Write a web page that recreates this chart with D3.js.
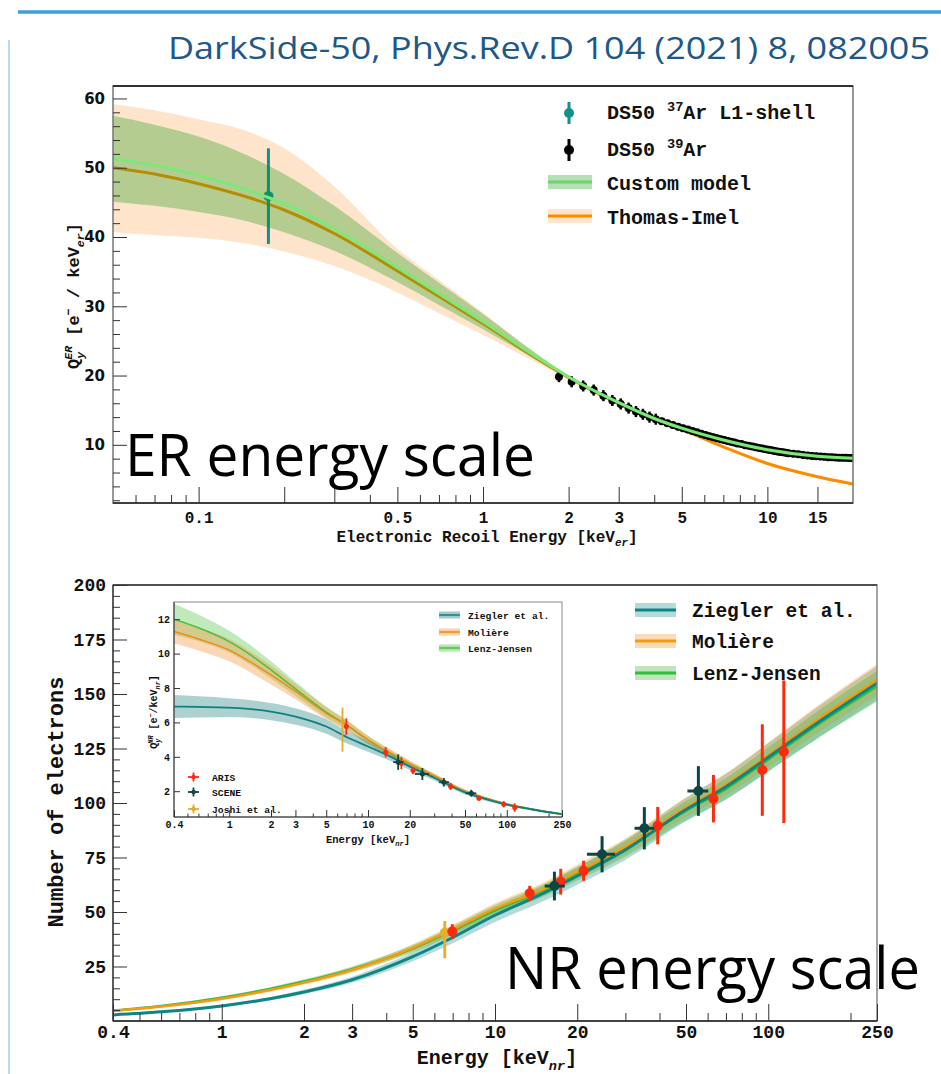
<!DOCTYPE html>
<html><head><meta charset="utf-8">
<script src="https://cdn.jsdelivr.net/npm/d3@7"></script>
<style>body{margin:0;background:#fff}</style>
</head><body><svg id="c" width="941" height="1074"></svg>
<script>
// ---------------- DATA ----------------
const titleText = "DarkSide-50, Phys.Rev.D 104 (2021) 8, 082005";

// ER panel
const erTickLabeled = [0.1,0.5,1,2,3,5,10,15];
const erTickMajorUnl = [0.2,0.3];
const erTickMinor = [0.06,0.07,0.08,0.09,0.4,0.6,0.7,0.8,0.9,4,6,7,8,9];
const erYMajor = [10,20,30,40,50,60];
const erYMinor = [2,4,6,8,12,14,16,18,22,24,26,28,32,34,36,38,42,44,46,48,52,54,56,58];

const erE        = [0.05,0.07,0.1,0.15,0.2,0.3,0.5,0.7,1,1.5,2,3,4,5,7,10,15,20];
const customMid  = [51.3,50.35,48.9,46.7,44.8,41.2,35.6,31.8,27.8,23.0,19.8,16.1,13.8,12.4,10.7,9.3,8.35,8.05];
const customLo   = [45.1,44.5,43.6,42.2,40.7,38.0,33.5,30.2,26.7,22.5,19.55,15.8,13.5,12.1,10.4,9.0,8.05,7.75];
const customHi   = [57.5,56.2,54.5,51.7,49.1,44.5,37.7,33.4,28.9,23.5,20.05,16.4,14.1,12.7,11.0,9.6,8.65,8.35];
const tiMid      = [50.0,49.1,47.7,45.7,43.9,40.5,35.1,31.4,27.5,22.8,19.7,15.9,13.6,12.2,9.7,7.3,5.4,4.35];
const tiLo       = [40.7,40.3,39.9,39.0,37.9,35.8,32.0,29.0,25.9,22.1,19.45,15.7,13.4,12.0,9.5,7.1,5.2,4.15];
const tiHi       = [59.2,58.3,57.0,55.2,52.8,47.3,38.3,33.8,29.1,23.5,19.95,16.1,13.8,12.4,9.9,7.5,5.6,4.55];

const ar37E = [0.176], ar37Q = [45.9], ar37Lo = [39.0], ar37Hi = [52.8];

const ar39E = [1.85,2.05,2.25,2.45,2.65,2.85,3.05,3.25,3.45,3.65,3.85,4.05,4.25,4.45,4.65,4.85,5.05,5.25,5.45,5.65,5.85,6.05,6.25,6.45,6.65,6.85,7.05,7.25,7.45,7.65,7.85,8.1,8.35,8.6,8.85,9.1,9.35,9.6,9.85,10.1,10.35,10.6,10.85,11.1,11.35,11.6,11.85,12.35,12.85,13.35,13.85,14.35,14.85,15.35,15.85,16.35,16.85,17.35,17.85,18.35,18.85,19.35,19.85];
const ar39Q = [19.84,19.1,18.5,17.9,17.1,16.4,15.9,15.3,14.8,14.4,14.0,13.7,13.4,13.1,12.85,12.6,12.4,12.2,12.0,11.8,11.6,11.4,11.25,11.1,10.95,10.8,10.7,10.55,10.45,10.35,10.2,10.1,9.95,9.85,9.75,9.65,9.55,9.45,9.35,9.28,9.2,9.12,9.05,8.98,8.92,8.86,8.8,8.72,8.62,8.52,8.45,8.4,8.35,8.3,8.26,8.22,8.2,8.17,8.15,8.13,8.12,8.1,8.1];
const ar39Err = [0.8,0.8,0.8,0.8,0.8,0.8,0.8,0.8,0.8,0.8,0.8,0.8,0.5,0.5,0.5,0.5,0.5,0.5,0.5,0.5,0.5,0.5,0.5,0.5,0.5,0.5,0.5,0.5,0.5,0.5,0.5,0.5,0.5,0.5,0.5,0.5,0.5,0.5,0.5,0.5,0.5,0.5,0.5,0.5,0.5,0.5,0.5,0.5,0.5,0.5,0.5,0.5,0.5,0.5,0.5,0.5,0.5,0.5,0.5,0.5,0.5,0.5,0.5];

// NR panel
const nrTickLabeled = [0.4,1,2,3,5,10,20,50,100,250];
const nrTickMinor = [0.5,0.6,0.7,0.8,0.9,4,6,7,8,9,30,40,60,70,80,90,200];
const nrYMajor = [25,50,75,100,125,150,175,200];
const nrYMinor = [5,10,15,20,30,35,40,45,55,60,65,70,80,85,90,95,105,110,115,120,130,135,140,145,155,160,165,170,180,185,190,195];

const nrE          = [0.4,0.6,1,1.5,2,3,5,7,10,15,20,30,50,70,100,150,250];
const zieglerN     = [2.8,4.2,6.9,10.2,13.3,18.9,29.5,38.3,48.5,58.5,66.5,78.5,97,107.5,121,136.5,155];
const zieglerNErr  = [0.27,0.38,0.55,0.75,1.0,1.4,2.1,2.6,3.1,3.6,4.0,4.6,5.4,5.9,6.5,7.1,7.8];
const moliereN     = [4.6,6.6,10.2,14.2,17.6,23.4,33.5,42,51.5,60.5,68.5,80,98,108.5,122,138,156.5];
const moliereNErr  = [0.28,0.4,0.65,0.85,1.0,1.25,1.7,2.1,2.5,2.9,3.2,3.7,4.5,5.0,5.6,6.3,7.2];
const lenzN        = [4.8,6.9,10.7,14.7,18.1,23.8,33.2,41.5,50.8,59.8,67.6,79,96.5,106.5,120,135.5,153.5];
const lenzNErr     = [0.36,0.45,0.63,0.8,1.0,1.25,1.65,2.0,2.4,2.8,3.1,3.6,4.4,4.9,5.5,6.2,7.0];

const zieglerQ     = [6.92,6.9,6.86,6.76,6.63,6.34,5.76,5.15,4.6,3.95,3.43,2.78,1.93,1.55,1.22,0.95,0.66];
const zieglerQErr  = [0.67,0.62,0.55,0.52,0.5,0.48,0.42,0.36,0.3,0.24,0.2,0.16,0.12,0.1,0.08,0.06,0.05];
const moliereQ     = [11.28,10.85,10.2,9.4,8.76,7.8,6.53,5.85,4.98,4.15,3.6,2.9,2.0,1.6,1.25,0.97,0.68];
const moliereQErr  = [0.68,0.67,0.65,0.6,0.55,0.45,0.35,0.3,0.25,0.21,0.18,0.14,0.1,0.08,0.07,0.06,0.05];
const lenzQ        = [12.0,11.5,10.7,9.8,9.05,7.95,6.6,5.85,4.98,4.12,3.57,2.87,1.98,1.58,1.23,0.95,0.66];
const lenzQErr     = [0.9,0.78,0.63,0.56,0.5,0.42,0.33,0.28,0.24,0.2,0.17,0.13,0.1,0.08,0.07,0.06,0.05];

const arisE   = [6.98,13.4,17.4,21.1,39.4,63.0,95.1,114];
const arisN   = [41.0,58.6,63.9,68.9,89.6,102.0,115.1,123.5];
const arisNErr= [3.4,3.4,5.9,4.6,8.6,10.9,21.0,32.7];
const arisQ   = [5.76,4.27,3.63,3.2,2.27,1.59,1.24,1.05];
const arisQErr= [0.48,0.3,0.35,0.2,0.2,0.15,0.18,0.25];

const sceneE   = [16.5,24.65,35.2,55.5];
const sceneELo = [15.2,21.7,32.4,50.6];
const sceneEHi = [18.0,27.5,38.3,60.3];
const sceneN   = [61.9,76.5,88.4,105.5];
const sceneNErr= [6.6,8.3,9.7,11.4];
const sceneQ   = [3.69,3.0,2.52,1.88];
const sceneQErr= [0.45,0.35,0.25,0.2];

const joshiE = [6.55];
const joshiN = [40.5], joshiNLo = [28.8], joshiNHi = [45.9];
const joshiQ = [6.05], joshiQLo = [4.3], joshiQHi = [6.86];

const insetYMajor = [2,4,6,8,10,12];

// ---------------- DRAW ----------------
const svg = d3.select("#c");
const MONO = "'Liberation Mono','DejaVu Sans Mono',monospace";
const SANS = "'DejaVu Sans',sans-serif";
const BIG = "'Open Sans','Noto Sans',sans-serif";

svg.append("rect").attr("width",941).attr("height",1074).attr("fill","#fff");
svg.append("line").attr("x1",18).attr("x2",941).attr("y1",12).attr("y2",12)
  .attr("stroke","#3d9ee3").attr("stroke-width",3.5);
svg.append("line").attr("x1",9).attr("x2",9).attr("y1",40).attr("y2",1074)
  .attr("stroke","#b8dbf3").attr("stroke-width",2);

svg.append("text").attr("x",168).attr("y",59).text(titleText)
  .attr("font-family",BIG).attr("font-size",31).attr("fill","#1c5889")
  .attr("textLength",762).attr("lengthAdjust","spacingAndGlyphs");

function rich(t, parts, fs){
  let shift = 0;
  parts.forEach(p=>{
    const [s,k,dx] = p;
    const target = (k && k.startsWith("sup")) ? -0.42*fs : (k && k.startsWith("sub")) ? 0.28*fs : 0;
    const ts = t.append("tspan").text(s).attr("dy", target-shift);
    if (dx) ts.attr("dx", dx);
    if (k) ts.attr("font-size", fs*0.68);
    if (k && k.endsWith("it")) ts.attr("font-style","italic");
    shift = target;
  });
}
function styleAxis(g, font, fs){
  g.select(".domain").remove();
  g.attr("font-family", font).attr("font-size", fs).attr("font-weight","bold");
  g.selectAll(".tick line").attr("stroke","#333").attr("stroke-width",1);
  g.selectAll(".tick text").attr("fill","#111");
}

// ======== ER PANEL ========
const erL=113, erR=853, erT=86, erB=503;
const xE = d3.scaleLog().domain([0.05,20]).range([erL,erR]);
const yE = d3.scaleLinear().domain([1.6,61.8]).range([erB,erT]);

svg.append("clipPath").attr("id","clipER").append("rect")
  .attr("x",erL).attr("y",erT).attr("width",erR-erL).attr("height",erB-erT);
const gE = svg.append("g").attr("clip-path","url(#clipER)");

const erRows = erE.map((e,i)=>({e, cm:customMid[i], cl:customLo[i], ch:customHi[i], tm:tiMid[i], tl:tiLo[i], th:tiHi[i]}));
const areaE = (lo,hi)=>d3.area().x(d=>xE(d.e)).y0(d=>yE(d[lo])).y1(d=>yE(d[hi])).curve(d3.curveMonotoneX);
const lineE = k=>d3.line().x(d=>xE(d.e)).y(d=>yE(d[k])).curve(d3.curveMonotoneX);

gE.append("path").datum(erRows).attr("d",areaE("tl","th")).attr("fill","#fee4cb");
gE.append("path").datum(erRows).attr("d",lineE("tm")).attr("fill","none").attr("stroke","#ff8a00").attr("stroke-width",3);

// Ar39 points
const ar39 = ar39E.map((e,i)=>({e,q:ar39Q[i],er:ar39Err[i]}));
gE.selectAll(".eb39").data(ar39).join("line")
  .attr("x1",d=>xE(d.e)).attr("x2",d=>xE(d.e))
  .attr("y1",d=>yE(d.q-d.er)).attr("y2",d=>yE(d.q+d.er))
  .attr("stroke","#000").attr("stroke-width",2.5);
gE.selectAll(".pt39").data(ar39).join("circle")
  .attr("cx",d=>xE(d.e)).attr("cy",d=>yE(d.q)).attr("r",4).attr("fill","#000");

// Ar37 point
const ar37 = ar37E.map((e,i)=>({e,q:ar37Q[i],lo:ar37Lo[i],hi:ar37Hi[i]}));
gE.selectAll(".eb37").data(ar37).join("line")
  .attr("x1",d=>xE(d.e)).attr("x2",d=>xE(d.e))
  .attr("y1",d=>yE(d.lo)).attr("y2",d=>yE(d.hi))
  .attr("stroke","#138f8c").attr("stroke-width",3);
gE.selectAll(".pt37").data(ar37).join("circle")
  .attr("cx",d=>xE(d.e)).attr("cy",d=>yE(d.q)).attr("r",5).attr("fill","#138f8c");

gE.append("path").datum(erRows).attr("d",areaE("cl","ch")).attr("fill","rgba(10,150,10,0.3)");
gE.append("path").datum(erRows).attr("d",lineE("cm")).attr("fill","none").attr("stroke","#7de87a").attr("stroke-width",3);

// frame
svg.append("rect").attr("x",erL).attr("y",erT).attr("width",erR-erL).attr("height",erB-erT)
  .attr("fill","none").attr("stroke","#777").attr("stroke-width",1.5);
svg.append("line").attr("x1",erL).attr("x2",erR).attr("y1",erT).attr("y2",erT).attr("stroke","#111").attr("stroke-width",1.5);
svg.append("line").attr("x1",erL).attr("x2",erR).attr("y1",erB).attr("y2",erB).attr("stroke","#222").attr("stroke-width",1.5);

// axes
svg.append("g").attr("transform",`translate(0,${erB})`)
  .call(d3.axisBottom(xE).tickValues(erTickLabeled).tickSize(-16).tickPadding(9).tickFormat((d,i)=>String(erTickLabeled[i])))
  .call(g=>styleAxis(g,MONO,16));
svg.append("g").attr("transform",`translate(0,${erB})`)
  .call(d3.axisBottom(xE).tickValues(erTickMajorUnl).tickSize(-16).tickFormat(""))
  .call(g=>styleAxis(g,MONO,16));
svg.append("g").attr("transform",`translate(0,${erB})`)
  .call(d3.axisBottom(xE).tickValues(erTickMinor).tickSize(-8).tickFormat(""))
  .call(g=>styleAxis(g,MONO,16));
svg.append("g").attr("transform",`translate(${erL},0)`)
  .call(d3.axisLeft(yE).tickValues(erYMajor).tickSize(-14).tickPadding(8).tickFormat(d3.format("d")))
  .call(g=>styleAxis(g,SANS,15));
svg.append("g").attr("transform",`translate(${erL},0)`)
  .call(d3.axisLeft(yE).tickValues(erYMinor).tickSize(-7).tickFormat(""))
  .call(g=>styleAxis(g,SANS,15));

// axis titles
const erXT = svg.append("text").attr("x",(erL+erR)/2+4).attr("y",542).attr("text-anchor","middle")
  .attr("font-family",MONO).attr("font-weight","bold").attr("font-size",16).attr("fill","#111");
rich(erXT, [["Electronic Recoil Energy [keV"],["er","subit"],["]"]], 16);
const erYT = svg.append("text").attr("transform","translate(79,296) rotate(-90)").attr("text-anchor","middle")
  .attr("font-family",MONO).attr("font-weight","bold").attr("font-size",17).attr("fill","#111");
rich(erYT, [["Q"],["y","subit"],["ER","supit",-8],[" [e"],["\u2212","sup"],[" / keV"],["er","subit"],["]"]], 17);

// legend ER
const legE = svg.append("g").attr("font-family",MONO).attr("font-weight","bold").attr("font-size",20).attr("fill","#111");
legE.append("line").attr("x1",569).attr("x2",569).attr("y1",102).attr("y2",124).attr("stroke","#138f8c").attr("stroke-width",3);
legE.append("circle").attr("cx",569).attr("cy",113).attr("r",5).attr("fill","#138f8c");
rich(legE.append("text").attr("x",607).attr("y",119), [["DS50 "],["37","sup"],["Ar L1-shell"]], 20);
legE.append("line").attr("x1",569).attr("x2",569).attr("y1",139).attr("y2",161).attr("stroke","#000").attr("stroke-width",3);
legE.append("circle").attr("cx",569).attr("cy",150).attr("r",5).attr("fill","#000");
rich(legE.append("text").attr("x",607).attr("y",156), [["DS50 "],["39","sup"],["Ar"]], 20);
legE.append("rect").attr("x",548).attr("y",175).attr("width",44).attr("height",14).attr("fill","rgba(10,150,10,0.3)");
legE.append("line").attr("x1",548).attr("x2",592).attr("y1",182).attr("y2",182).attr("stroke","#6fd46c").attr("stroke-width",3);
legE.append("text").attr("x",607).attr("y",190).text("Custom model");
legE.append("rect").attr("x",548).attr("y",209).attr("width",44).attr("height",14).attr("fill","#fee4cb");
legE.append("line").attr("x1",548).attr("x2",592).attr("y1",216).attr("y2",216).attr("stroke","#ff8a00").attr("stroke-width",3);
legE.append("text").attr("x",607).attr("y",224).text("Thomas-Imel");

svg.append("text").attr("x",125).attr("y",476).text("ER energy scale")
  .attr("font-family",BIG).attr("font-size",58).attr("fill","#000")
  .attr("textLength",410).attr("lengthAdjust","spacingAndGlyphs");

// ======== NR PANEL ========
const nrL=113, nrR=877, nrT=585, nrB=1021;
const xN = d3.scaleLog().domain([0.4,250]).range([nrL,nrR]);
const yN = d3.scaleLinear().domain([0,200]).range([nrB,nrT]);
svg.append("clipPath").attr("id","clipNR").append("rect")
  .attr("x",nrL).attr("y",nrT).attr("width",nrR-nrL).attr("height",nrB-nrT);
const gN = svg.append("g").attr("clip-path","url(#clipNR)");

const nrRows = nrE.map((e,i)=>({e,
  z:zieglerN[i], zl:zieglerN[i]-zieglerNErr[i], zh:zieglerN[i]+zieglerNErr[i],
  m:moliereN[i], ml:moliereN[i]-moliereNErr[i], mh:moliereN[i]+moliereNErr[i],
  l:lenzN[i], ll:lenzN[i]-lenzNErr[i], lh:lenzN[i]+lenzNErr[i]}));
const areaN = (lo,hi)=>d3.area().x(d=>xN(d.e)).y0(d=>yN(d[lo])).y1(d=>yN(d[hi])).curve(d3.curveMonotoneX);
const lineN = k=>d3.line().x(d=>xN(d.e)).y(d=>yN(d[k])).curve(d3.curveMonotoneX);

const cZ="#0d8585", cM="#f59a12", cL="#2fbf3a";
const bZ="rgba(40,150,150,0.35)", bM="rgba(245,160,60,0.38)", bL="rgba(70,180,60,0.35)";
gN.append("path").datum(nrRows).attr("d",areaN("zl","zh")).attr("fill",bZ);
gN.append("path").datum(nrRows).attr("d",areaN("ml","mh")).attr("fill",bM);
gN.append("path").datum(nrRows).attr("d",areaN("ll","lh")).attr("fill",bL);
gN.append("path").datum(nrRows).attr("d",lineN("l")).attr("fill","none").attr("stroke",cL).attr("stroke-width",2.5);
gN.append("path").datum(nrRows).attr("d",lineN("m")).attr("fill","none").attr("stroke",cM).attr("stroke-width",2.5);
gN.append("path").datum(nrRows).attr("d",lineN("z")).attr("fill","none").attr("stroke",cZ).attr("stroke-width",3);

// points main
const joshi = joshiE.map((e,i)=>({e,v:joshiN[i],lo:joshiNLo[i],hi:joshiNHi[i]}));
gN.selectAll(".jeb").data(joshi).join("line").attr("x1",d=>xN(d.e)).attr("x2",d=>xN(d.e))
  .attr("y1",d=>yN(d.lo)).attr("y2",d=>yN(d.hi)).attr("stroke","#e2b032").attr("stroke-width",3);
gN.selectAll(".jpt").data(joshi).join("circle").attr("cx",d=>xN(d.e)).attr("cy",d=>yN(d.v)).attr("r",5).attr("fill","#e2b032");

const aris = arisE.map((e,i)=>({e,v:arisN[i],er:arisNErr[i]}));
gN.selectAll(".aeb").data(aris).join("line").attr("x1",d=>xN(d.e)).attr("x2",d=>xN(d.e))
  .attr("y1",d=>yN(d.v-d.er)).attr("y2",d=>yN(d.v+d.er)).attr("stroke","#ff2a0c").attr("stroke-width",3);
gN.selectAll(".apt").data(aris).join("circle").attr("cx",d=>xN(d.e)).attr("cy",d=>yN(d.v)).attr("r",5).attr("fill","#ff2a0c");

const scene = sceneE.map((e,i)=>({e,lo:sceneELo[i],hi:sceneEHi[i],v:sceneN[i],er:sceneNErr[i]}));
gN.selectAll(".seb").data(scene).join("line").attr("x1",d=>xN(d.e)).attr("x2",d=>xN(d.e))
  .attr("y1",d=>yN(d.v-d.er)).attr("y2",d=>yN(d.v+d.er)).attr("stroke","#0b4545").attr("stroke-width",3);
gN.selectAll(".sebh").data(scene).join("line").attr("x1",d=>xN(d.lo)).attr("x2",d=>xN(d.hi))
  .attr("y1",d=>yN(d.v)).attr("y2",d=>yN(d.v)).attr("stroke","#0b4545").attr("stroke-width",3);
gN.selectAll(".spt").data(scene).join("circle").attr("cx",d=>xN(d.e)).attr("cy",d=>yN(d.v)).attr("r",5).attr("fill","#0b4545");

// frame
svg.append("rect").attr("x",nrL).attr("y",nrT).attr("width",nrR-nrL).attr("height",nrB-nrT)
  .attr("fill","none").attr("stroke","#888").attr("stroke-width",1.5);
svg.append("line").attr("x1",nrL).attr("x2",nrR).attr("y1",nrT).attr("y2",nrT).attr("stroke","#333").attr("stroke-width",1.5);
svg.append("line").attr("x1",nrL).attr("x2",nrR).attr("y1",nrB).attr("y2",nrB).attr("stroke","#222").attr("stroke-width",1.5);
svg.append("line").attr("x1",nrL).attr("x2",nrL).attr("y1",nrT).attr("y2",nrB).attr("stroke","#444").attr("stroke-width",1.5);

svg.append("g").attr("transform",`translate(0,${nrB})`)
  .call(d3.axisBottom(xN).tickValues(nrTickLabeled).tickSize(-17).tickPadding(4).tickFormat((d,i)=>String(nrTickLabeled[i])))
  .call(g=>styleAxis(g,MONO,18));
svg.append("g").attr("transform",`translate(0,${nrB})`)
  .call(d3.axisBottom(xN).tickValues(nrTickMinor).tickSize(-8).tickFormat(""))
  .call(g=>styleAxis(g,MONO,18));
svg.append("g").attr("transform",`translate(${nrL},0)`)
  .call(d3.axisLeft(yN).tickValues(nrYMajor).tickSize(-14).tickPadding(7).tickFormat(d3.format("d")))
  .call(g=>styleAxis(g,MONO,18));
svg.append("g").attr("transform",`translate(${nrL},0)`)
  .call(d3.axisLeft(yN).tickValues(nrYMinor).tickSize(-7).tickFormat(""))
  .call(g=>styleAxis(g,MONO,18));

const nrXT = svg.append("text").attr("x",497).attr("y",1064).attr("text-anchor","middle")
  .attr("font-family",MONO).attr("font-weight","bold").attr("font-size",20).attr("fill","#111");
rich(nrXT, [["Energy [keV"],["nr","subit"],["]"]], 20);
svg.append("text").attr("transform","translate(63,802) rotate(-90)").attr("text-anchor","middle")
  .attr("font-family",MONO).attr("font-weight","bold").attr("font-size",22).attr("fill","#111")
  .text("Number of electrons");

// legend NR
const legN = svg.append("g").attr("font-family",MONO).attr("font-weight","bold").attr("font-size",19.5).attr("fill","#111");
[["Ziegler et al.",bZ,cZ,610],["Moli\u00e8re",bM,cM,641],["Lenz-Jensen",bL,cL,673]].forEach(([t,b,c,y])=>{
  legN.append("rect").attr("x",635).attr("y",y-7).attr("width",41).attr("height",14).attr("fill",b);
  legN.append("line").attr("x1",635).attr("x2",676).attr("y1",y).attr("y2",y).attr("stroke",c).attr("stroke-width",3);
  legN.append("text").attr("x",692).attr("y",y+7).text(t);
});

// ======== INSET ========
const iL=174, iR=562, iT=602, iB=817;
const xI = d3.scaleLog().domain([0.4,250]).range([iL,iR]);
const yI = d3.scaleLinear().domain([0.5,13]).range([iB,iT]);
svg.append("clipPath").attr("id","clipIN").append("rect")
  .attr("x",iL).attr("y",iT).attr("width",iR-iL).attr("height",iB-iT);
const gI = svg.append("g").attr("clip-path","url(#clipIN)");
const inRows = nrE.map((e,i)=>({e,
  z:zieglerQ[i], zl:zieglerQ[i]-zieglerQErr[i], zh:zieglerQ[i]+zieglerQErr[i],
  m:moliereQ[i], ml:moliereQ[i]-moliereQErr[i], mh:moliereQ[i]+moliereQErr[i],
  l:lenzQ[i], ll:lenzQ[i]-lenzQErr[i], lh:lenzQ[i]+lenzQErr[i]}));
const areaI = (lo,hi)=>d3.area().x(d=>xI(d.e)).y0(d=>yI(d[lo])).y1(d=>yI(d[hi])).curve(d3.curveMonotoneX);
const lineI = k=>d3.line().x(d=>xI(d.e)).y(d=>yI(d[k])).curve(d3.curveMonotoneX);
gI.append("path").datum(inRows).attr("d",areaI("ll","lh")).attr("fill","rgba(90,200,80,0.38)");
gI.append("path").datum(inRows).attr("d",areaI("ml","mh")).attr("fill","rgba(245,150,60,0.38)");
gI.append("path").datum(inRows).attr("d",areaI("zl","zh")).attr("fill","rgba(50,140,140,0.4)");
gI.append("path").datum(inRows).attr("d",lineI("l")).attr("fill","none").attr("stroke","#4cbf3c").attr("stroke-width",1.5);
gI.append("path").datum(inRows).attr("d",lineI("m")).attr("fill","none").attr("stroke","#f08a10").attr("stroke-width",1.5);
gI.append("path").datum(inRows).attr("d",lineI("z")).attr("fill","none").attr("stroke","#0d7f7f").attr("stroke-width",1.8);

const joshiI = joshiE.map((e,i)=>({e,v:joshiQ[i],lo:joshiQLo[i],hi:joshiQHi[i]}));
gI.selectAll(".jeb").data(joshiI).join("line").attr("x1",d=>xI(d.e)).attr("x2",d=>xI(d.e))
  .attr("y1",d=>yI(d.lo)).attr("y2",d=>yI(d.hi)).attr("stroke","#e2aa30").attr("stroke-width",1.8);
gI.selectAll(".jpt").data(joshiI).join("circle").attr("cx",d=>xI(d.e)).attr("cy",d=>yI(d.v)).attr("r",2.2).attr("fill","#e2aa30");
const arisI = arisE.map((e,i)=>({e,v:arisQ[i],er:arisQErr[i]}));
gI.selectAll(".aeb").data(arisI).join("line").attr("x1",d=>xI(d.e)).attr("x2",d=>xI(d.e))
  .attr("y1",d=>yI(d.v-d.er)).attr("y2",d=>yI(d.v+d.er)).attr("stroke","#ff2a0c").attr("stroke-width",1.8);
gI.selectAll(".apt").data(arisI).join("circle").attr("cx",d=>xI(d.e)).attr("cy",d=>yI(d.v)).attr("r",2.5).attr("fill","#ff2a0c");
const sceneI = sceneE.map((e,i)=>({e,lo:sceneELo[i],hi:sceneEHi[i],v:sceneQ[i],er:sceneQErr[i]}));
gI.selectAll(".seb").data(sceneI).join("line").attr("x1",d=>xI(d.e)).attr("x2",d=>xI(d.e))
  .attr("y1",d=>yI(d.v-d.er)).attr("y2",d=>yI(d.v+d.er)).attr("stroke","#0b4545").attr("stroke-width",1.8);
gI.selectAll(".sebh").data(sceneI).join("line").attr("x1",d=>xI(d.lo)).attr("x2",d=>xI(d.hi))
  .attr("y1",d=>yI(d.v)).attr("y2",d=>yI(d.v)).attr("stroke","#0b4545").attr("stroke-width",1.8);
gI.selectAll(".spt").data(sceneI).join("circle").attr("cx",d=>xI(d.e)).attr("cy",d=>yI(d.v)).attr("r",2.5).attr("fill","#0b4545");

svg.append("rect").attr("x",iL).attr("y",iT).attr("width",iR-iL).attr("height",iB-iT)
  .attr("fill","none").attr("stroke","#888").attr("stroke-width",1);
svg.append("line").attr("x1",iL).attr("x2",iR).attr("y1",iB).attr("y2",iB).attr("stroke","#333").attr("stroke-width",1);
svg.append("line").attr("x1",iL).attr("x2",iL).attr("y1",iT).attr("y2",iB).attr("stroke","#333").attr("stroke-width",1);

svg.append("g").attr("transform",`translate(0,${iB})`)
  .call(d3.axisBottom(xI).tickValues(nrTickLabeled).tickSize(-7).tickPadding(4).tickFormat((d,i)=>String(nrTickLabeled[i])))
  .call(g=>styleAxis(g,MONO,10));
svg.append("g").attr("transform",`translate(0,${iB})`)
  .call(d3.axisBottom(xI).tickValues(nrTickMinor).tickSize(-3.5).tickFormat(""))
  .call(g=>styleAxis(g,MONO,10));
svg.append("g").attr("transform",`translate(${iL},0)`)
  .call(d3.axisLeft(yI).tickValues(insetYMajor).tickSize(-6).tickPadding(4).tickFormat(d3.format("d")))
  .call(g=>styleAxis(g,MONO,10));

const iXT = svg.append("text").attr("x",368).attr("y",843).attr("text-anchor","middle")
  .attr("font-family",MONO).attr("font-weight","bold").attr("font-size",10.5).attr("fill","#111");
rich(iXT, [["Energy [keV"],["nr","subit"],["]"]], 10.5);
const iYT = svg.append("text").attr("transform","translate(157,712) rotate(-90)").attr("text-anchor","middle")
  .attr("font-family",MONO).attr("font-weight","bold").attr("font-size",10).attr("fill","#111");
rich(iYT, [["Q"],["y","subit"],["NR","supit",-5],[" [e"],["\u2212","sup"],["/keV"],["nr","subit"],["]"]], 10);

const legI = svg.append("g").attr("font-family",MONO).attr("font-weight","bold").attr("font-size",9.7).attr("fill","#111");
[["Ziegler et al.","rgba(50,140,140,0.45)","#0d7f7f",615],["Moli\u00e8re","rgba(245,150,60,0.45)","#f08a10",632],["Lenz-Jensen","rgba(90,200,80,0.45)","#4cbf3c",648]].forEach(([t,b,c,y])=>{
  legI.append("rect").attr("x",439).attr("y",y-3.5).attr("width",21).attr("height",7).attr("fill",b);
  legI.append("line").attr("x1",439).attr("x2",460).attr("y1",y).attr("y2",y).attr("stroke",c).attr("stroke-width",1.5);
  legI.append("text").attr("x",468).attr("y",y+3.5).text(t);
});
[["ARIS","#ff2a0c",777],["SCENE","#0b4545",792],["Joshi et al.","#e2aa30",809]].forEach(([t,c,y])=>{
  legI.append("line").attr("x1",188).attr("x2",199).attr("y1",y).attr("y2",y).attr("stroke",c).attr("stroke-width",1.8);
  legI.append("line").attr("x1",193.5).attr("x2",193.5).attr("y1",y-4.5).attr("y2",y+4.5).attr("stroke",c).attr("stroke-width",1.8);
  legI.append("circle").attr("cx",193.5).attr("cy",y).attr("r",2.2).attr("fill",c);
  legI.append("text").attr("x",212).attr("y",y+3.5).text(t);
});

svg.append("text").attr("x",505).attr("y",989).text("NR energy scale")
  .attr("font-family",BIG).attr("font-size",58).attr("fill","#000")
  .attr("textLength",415).attr("lengthAdjust","spacingAndGlyphs");
</script></body></html>
